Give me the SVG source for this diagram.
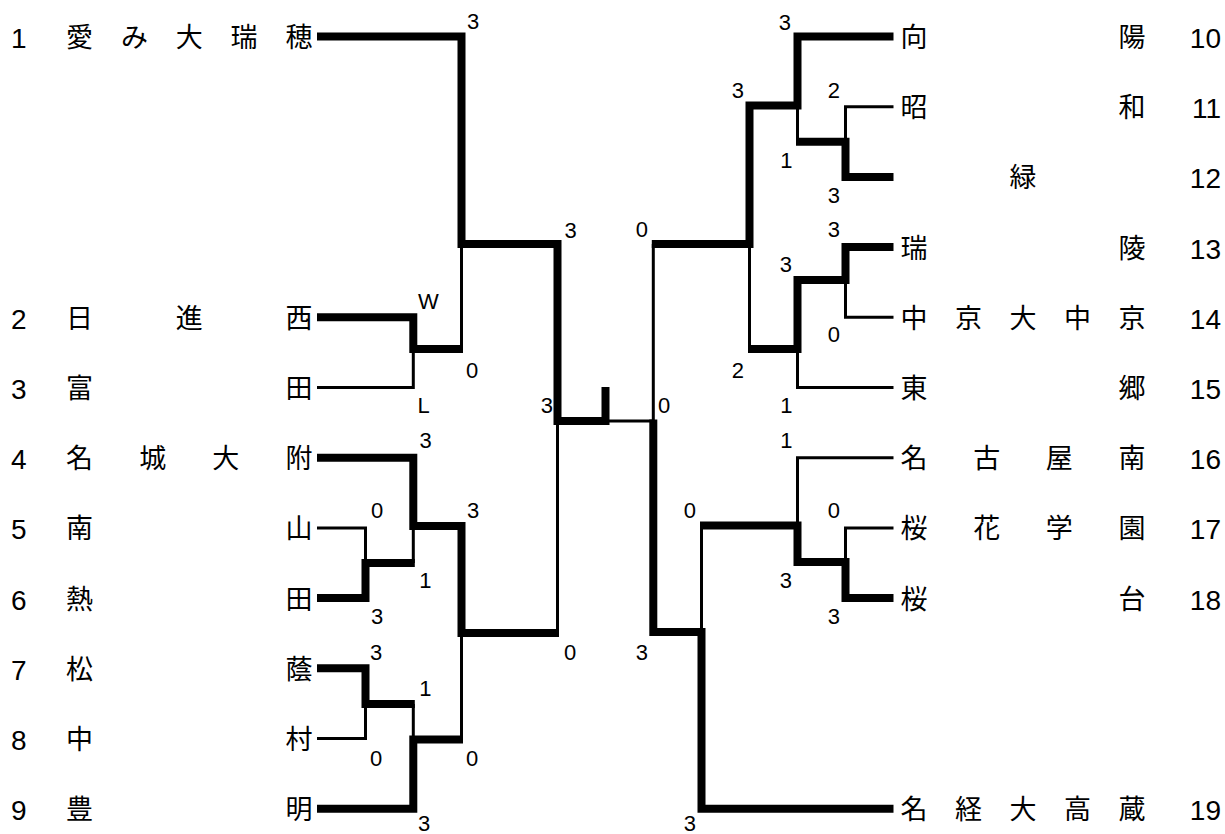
<svg xmlns="http://www.w3.org/2000/svg" width="1225" height="834" viewBox="0 0 1225 834">
<style>
.num{font-family:"Liberation Sans",Arial,sans-serif;font-size:28px;fill:#000}
.name{font-family:"Noto Sans CJK JP","Noto Sans CJK SC",sans-serif;font-size:27px;fill:#000}
.sc{font-family:"Liberation Sans",Arial,sans-serif;font-size:22px;fill:#000}
.e{text-anchor:end}
.thick{fill:none;stroke:#000;stroke-width:8;stroke-linejoin:miter;stroke-linecap:butt}
.thin{fill:none;stroke:#000;stroke-width:3;stroke-linejoin:miter;stroke-linecap:butt}
</style>
<rect width="1225" height="834" fill="#fff"/>
<g id="connectors">
<path class="thin" d="M317,387.5 H413.3 V349"/>
<path class="thin" d="M461.5,244 V349"/>
<path class="thin" d="M317,527.9 H365.5 V563"/>
<path class="thin" d="M413.3,526 V563"/>
<path class="thin" d="M317,738.5 H365.5 V704"/>
<path class="thin" d="M413.3,704 V739.5"/>
<path class="thin" d="M461.5,633 V739.5"/>
<path class="thin" d="M557.5,421 V633"/>
<path class="thin" d="M605.5,421 H653.3"/>
<path class="thin" d="M893.5,106.7 H845.5 V141.8"/>
<path class="thin" d="M797.5,105.5 V141.8"/>
<path class="thin" d="M893.5,317.3 H845.5 V280"/>
<path class="thin" d="M893.5,387.5 H797.5 V349"/>
<path class="thin" d="M749.5,244 V349"/>
<path class="thin" d="M653.3,244 V421"/>
<path class="thin" d="M893.5,457.7 H797.5 V525.5"/>
<path class="thin" d="M893.5,527.9 H845.5 V562"/>
<path class="thin" d="M701.5,525.5 V632"/>
<path class="thick" d="M317,36.5 H461.5 V244 H557.5 V421 H605.5 V387"/>
<path class="thick" d="M317,317.3 H413.3 V349 H463"/>
<path class="thick" d="M317,457.7 H413.3 V526 H461.5 V633 H559"/>
<path class="thick" d="M317,598.1 H365.5 V563 H414.8"/>
<path class="thick" d="M317,668.3 H365.5 V704 H414.8"/>
<path class="thick" d="M317,808.7 H413.3 V739.5 H463"/>
<path class="thick" d="M893.5,36.5 H797.5 V105.5 H749.5 V244 H651.8"/>
<path class="thick" d="M893.5,176.9 H845.5 V141.8 H796"/>
<path class="thick" d="M893.5,247.1 H845.5 V280 H797.5 V349 H748"/>
<path class="thick" d="M893.5,598.1 H845.5 V562 H797.5 V525.5 H700"/>
<path class="thick" d="M893.5,808.7 H701.5 V632 H653.3 V419.5"/>
</g>
<g id="team-1"><text class="num" x="11" y="48">1</text><text class="name" x="66 120.9 175.75 230.6 285.5" y="47">愛み大瑞穂</text></g>
<g id="team-2"><text class="num" x="11" y="328.8">2</text><text class="name" x="66 175.75 285.5" y="327.8">日進西</text></g>
<g id="team-3"><text class="num" x="11" y="399">3</text><text class="name" x="66 285.5" y="398">富田</text></g>
<g id="team-4"><text class="num" x="11" y="469.2">4</text><text class="name" x="66 139.2 212.3 285.5" y="468.2">名城大附</text></g>
<g id="team-5"><text class="num" x="11" y="539.4">5</text><text class="name" x="66 285.5" y="538.4">南山</text></g>
<g id="team-6"><text class="num" x="11" y="609.6">6</text><text class="name" x="66 285.5" y="608.6">熱田</text></g>
<g id="team-7"><text class="num" x="11" y="679.8">7</text><text class="name" x="66 285.5" y="678.8">松蔭</text></g>
<g id="team-8"><text class="num" x="11" y="750">8</text><text class="name" x="66 285.5" y="749">中村</text></g>
<g id="team-9"><text class="num" x="11" y="820.2">9</text><text class="name" x="66 285.5" y="819.2">豊明</text></g>
<g id="team-10"><text class="name" x="900.5 1118.5" y="47">向陽</text><text class="num e" x="1221" y="48">10</text></g>
<g id="team-11"><text class="name" x="900.5 1118.5" y="117.2">昭和</text><text class="num e" x="1221" y="118.2">11</text></g>
<g id="team-12"><text class="name" x="1009.5" y="187.4">緑</text><text class="num e" x="1221" y="188.4">12</text></g>
<g id="team-13"><text class="name" x="900.5 1118.5" y="257.6">瑞陵</text><text class="num e" x="1221" y="258.6">13</text></g>
<g id="team-14"><text class="name" x="900.5 955 1009.5 1064 1118.5" y="327.8">中京大中京</text><text class="num e" x="1221" y="328.8">14</text></g>
<g id="team-15"><text class="name" x="900.5 1118.5" y="398">東郷</text><text class="num e" x="1221" y="399">15</text></g>
<g id="team-16"><text class="name" x="900.5 973.2 1045.8 1118.5" y="468.2">名古屋南</text><text class="num e" x="1221" y="469.2">16</text></g>
<g id="team-17"><text class="name" x="900.5 973.2 1045.8 1118.5" y="538.4">桜花学園</text><text class="num e" x="1221" y="539.4">17</text></g>
<g id="team-18"><text class="name" x="900.5 1118.5" y="608.6">桜台</text><text class="num e" x="1221" y="609.6">18</text></g>
<g id="team-19"><text class="name" x="900.5 955 1009.5 1064 1118.5" y="819.2">名経大高蔵</text><text class="num e" x="1221" y="820.2">19</text></g>
<g id="scores">
<text class="sc" x="467" y="29">3</text>
<text class="sc" x="564.5" y="238">3</text>
<text class="sc" x="418" y="309">W</text>
<text class="sc" x="466" y="378">0</text>
<text class="sc" x="417.5" y="413">L</text>
<text class="sc e" x="553" y="413">3</text>
<text class="sc" x="419.5" y="448">3</text>
<text class="sc" x="371" y="518">0</text>
<text class="sc" x="467" y="518">3</text>
<text class="sc" x="419.3" y="588">1</text>
<text class="sc" x="371" y="624">3</text>
<text class="sc" x="564" y="660">0</text>
<text class="sc" x="370" y="660">3</text>
<text class="sc" x="419.3" y="696">1</text>
<text class="sc" x="370" y="766">0</text>
<text class="sc" x="466" y="766">0</text>
<text class="sc" x="418" y="831">3</text>
<text class="sc e" x="791" y="30">3</text>
<text class="sc e" x="840" y="98">2</text>
<text class="sc e" x="840" y="203">3</text>
<text class="sc e" x="792.5" y="168">1</text>
<text class="sc e" x="744" y="98">3</text>
<text class="sc e" x="840" y="237">3</text>
<text class="sc e" x="648" y="237">0</text>
<text class="sc e" x="792" y="271.7">3</text>
<text class="sc e" x="840" y="341.7">0</text>
<text class="sc e" x="744" y="378">2</text>
<text class="sc e" x="792.5" y="413">1</text>
<text class="sc" x="658" y="413">0</text>
<text class="sc e" x="792.5" y="448">1</text>
<text class="sc e" x="840" y="518">0</text>
<text class="sc e" x="696" y="518">0</text>
<text class="sc e" x="792" y="588">3</text>
<text class="sc e" x="840" y="624">3</text>
<text class="sc e" x="648" y="660">3</text>
<text class="sc e" x="696" y="831">3</text>
</g>
</svg>
